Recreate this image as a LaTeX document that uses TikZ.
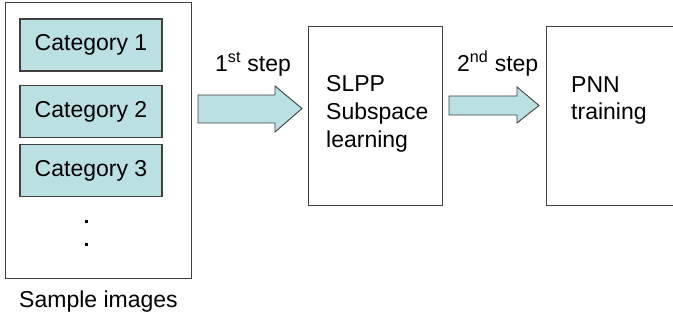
\documentclass[tikz,border=0pt]{standalone}
\usepackage{fontspec}
\setmainfont{Liberation Sans}
\definecolor{catfill}{RGB}{186,224,228}
\definecolor{edge}{RGB}{64,64,64}
\begin{document}
\begin{tikzpicture}[x=1pt,y=-1pt,
  txt/.style={font=\fontsize{23}{28}\selectfont, inner sep=0pt},
  frame/.style={draw=edge, line width=1pt},
  catbox/.style={draw=edge, fill=catfill, line width=1.3pt,
    minimum width=142pt, minimum height=52pt, inner sep=0pt,
    font=\fontsize{23}{28}\selectfont},
  blockarrow/.style={draw=edge, fill=catfill, line width=0.9pt, line join=miter}
]
\useasboundingbox (0,0) rectangle (673,321);
\clip (0,0) rectangle (673,321);
\fill[white] (0,0) rectangle (673,321);

% sample images panel with its categories
\draw[frame] (5,3) rectangle (191,278);
\node[catbox] (cat1) at (91,45) {Category 1};
\node[catbox] (cat2) at (91,111.5) {Category 2};
\node[catbox] (cat3) at (91,170.5) {Category 3};
\fill[black] (84.5,219.5) rectangle (87.5,222.5);
\fill[black] (84.5,242.5) rectangle (87.5,245.5);
\node[txt, anchor=base] (samp) at (98.5,307) {Sample images};

% first step arrow
\node[txt, anchor=base west] (lab1) at (215,72) {1\textsuperscript{st} step};
\draw[blockarrow] (198,95) -- (275,95) -- (275,86) -- (302,108.5) -- (275,132)
  -- (275,123) -- (198,123) -- cycle;

% subspace learning box (multi-line text anchored on its last baseline)
\draw[frame] (308,27) rectangle (442,205);
\node[txt, anchor=base west, align=left] (slpp) at (326,147)
  {SLPP\\Subspace\\learning};

% second step arrow
\node[txt, anchor=base west] (lab2) at (457,72) {2\textsuperscript{nd} step};
\draw[blockarrow] (449,96) -- (517,96) -- (517,87) -- (539,105.5) -- (517,123)
  -- (517,115) -- (449,115) -- cycle;

% PNN training box
\draw[frame] (546,27) rectangle (690,205);
\node[txt, anchor=base west, align=left] (pnn) at (571,120) {PNN\\training};
\end{tikzpicture}
\end{document}
